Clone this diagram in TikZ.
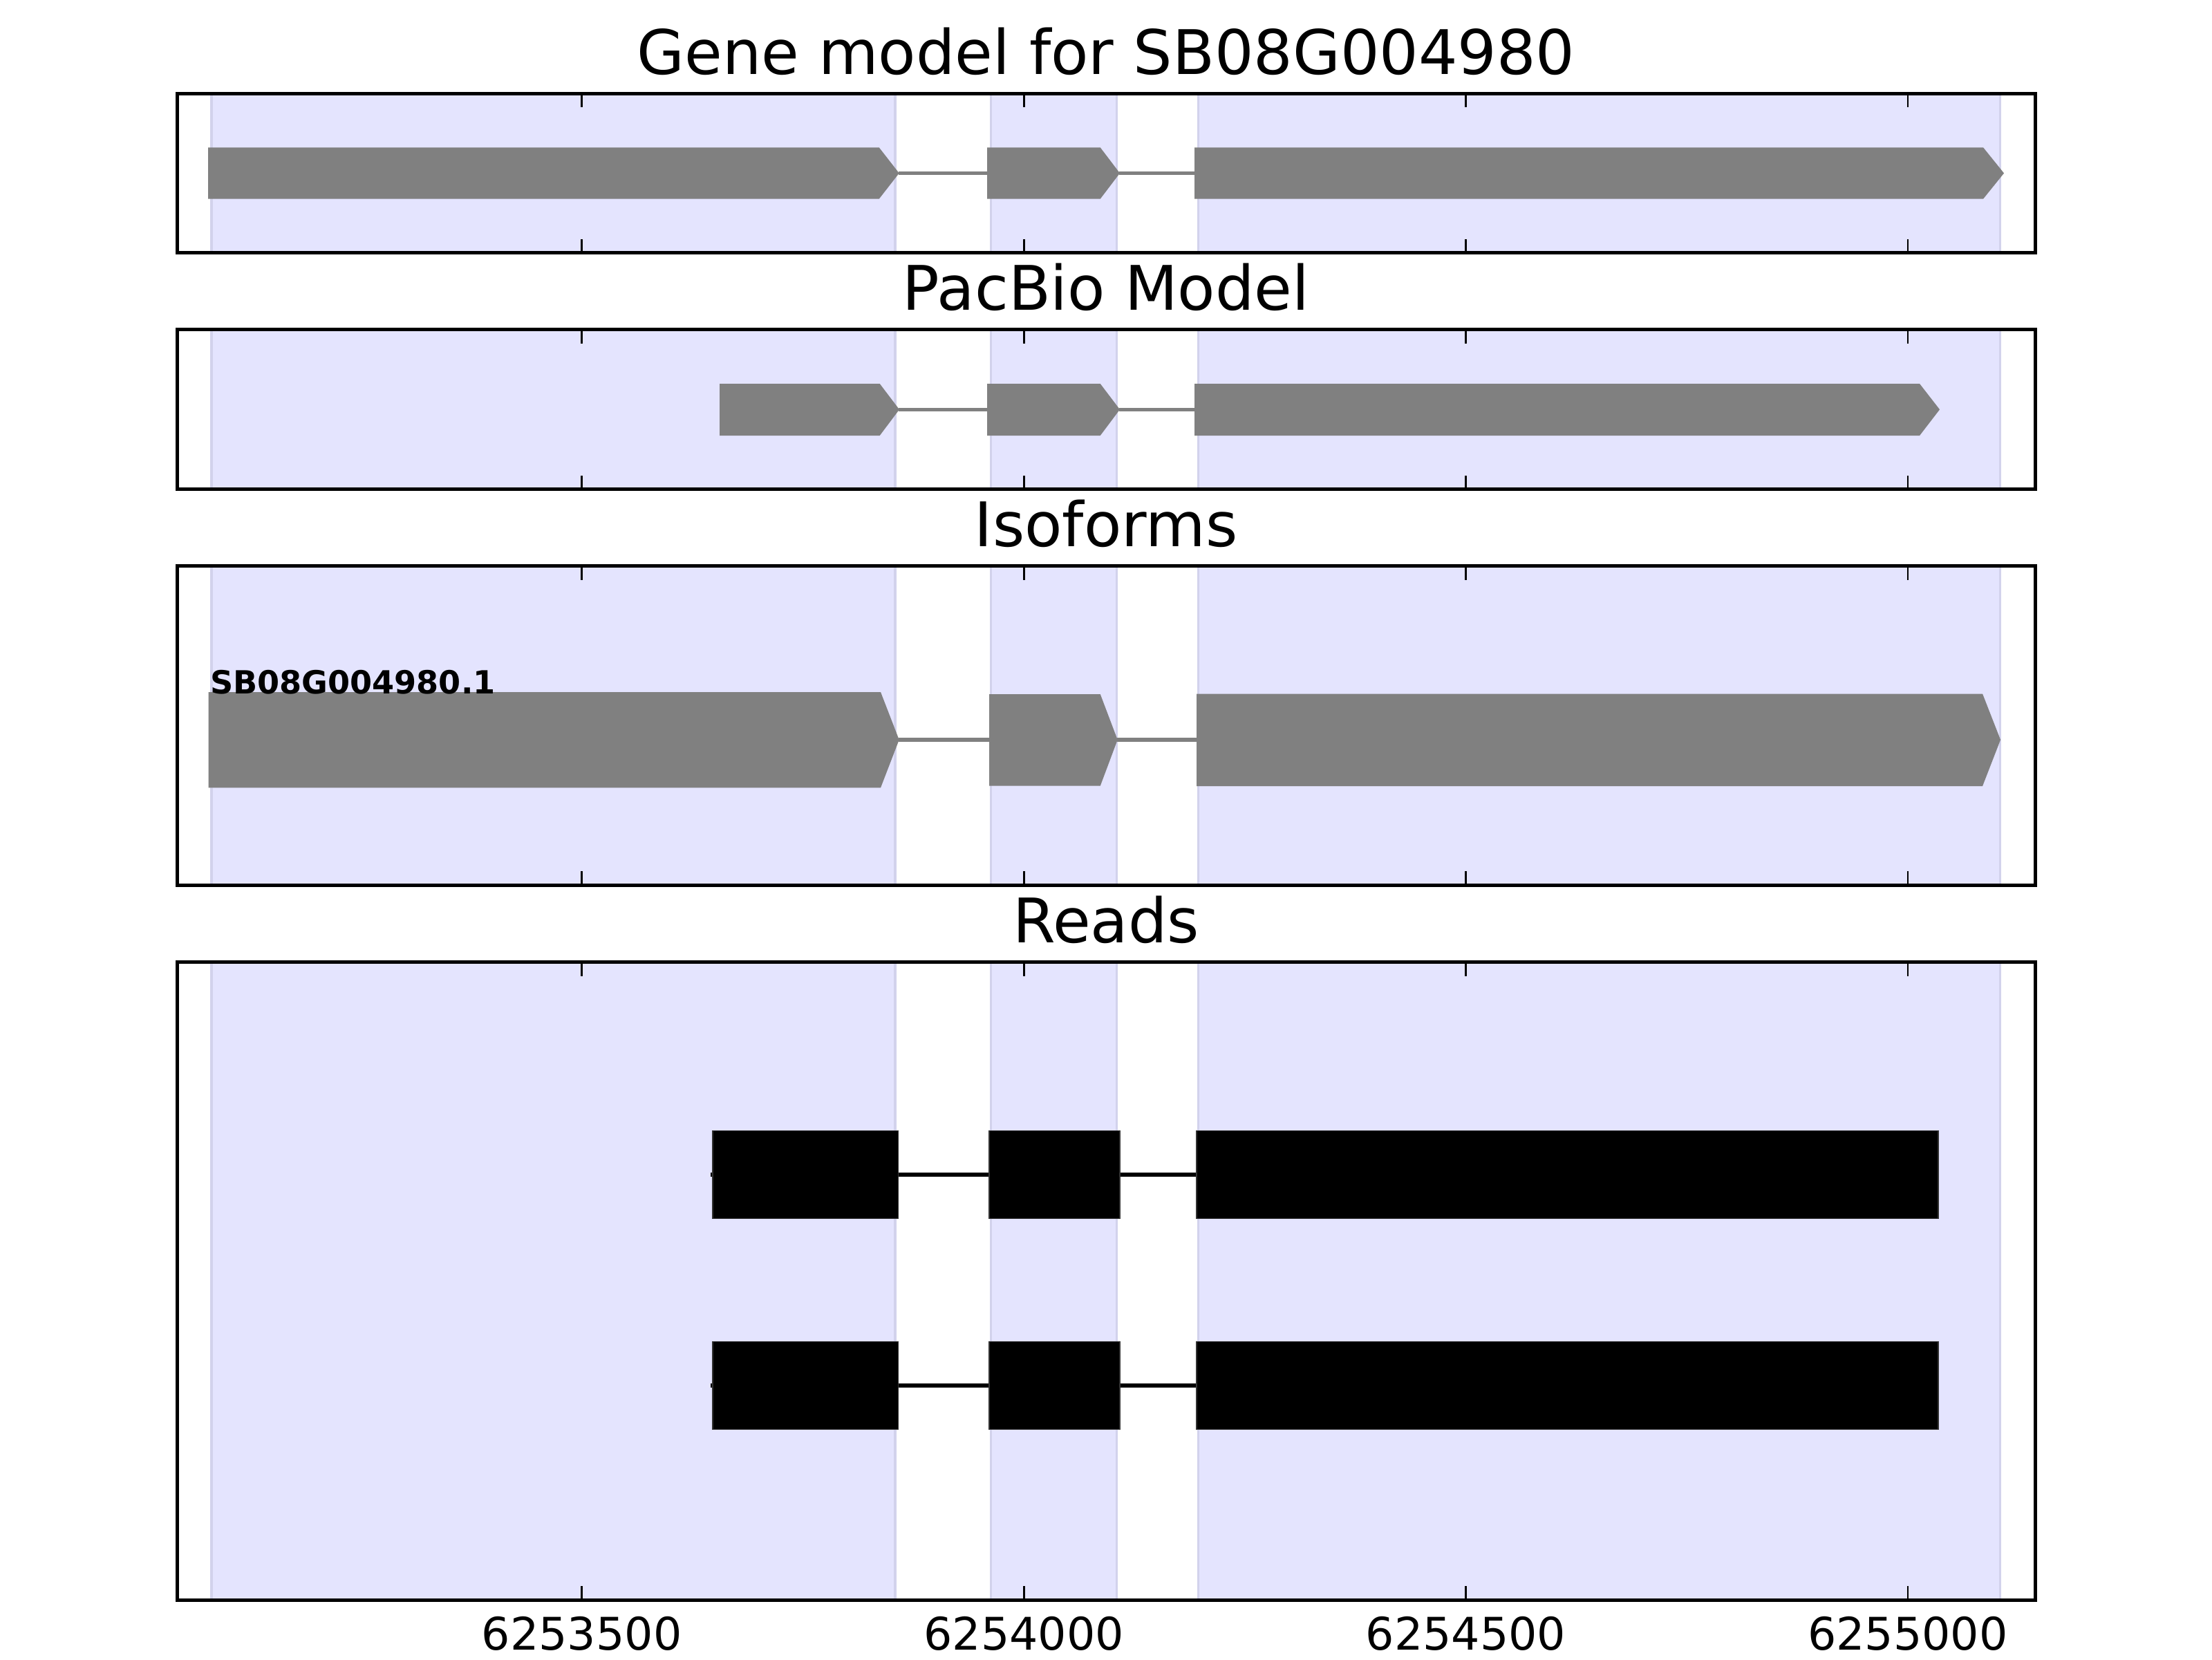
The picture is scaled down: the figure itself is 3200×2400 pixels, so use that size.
\documentclass[tikz,border=0pt]{standalone}
\usepackage{fontspec}
\setmainfont{DejaVu Sans}
\definecolor{shadecol}{RGB}{228,228,254}
\definecolor{shadeedge}{RGB}{210,210,236}
\definecolor{exongray}{RGB}{128,128,128}
\newcommand{\exonarrow}[6]{\fill[exongray] (#1,#4) -- (#2,#4) -- (#3,#5) -- (#2,#6) -- (#1,#6) -- cycle;}
\tikzset{
  frame/.style={draw=black, line width=0.9pt},
  shadeline/.style={draw=shadeedge, line width=0.55pt},
  intronline/.style={draw=exongray, line width=1pt},
  readexon/.style={fill=black, draw=black!80, line width=0.25pt},
  readintron/.style={draw=black, line width=1pt},
  tickmark/.style={draw=black, line width=0.5pt},
  ttl/.style={font=\fontsize{16}{19}\selectfont, anchor=base, inner sep=0pt},
  ticklab/.style={font=\fontsize{11.7}{14}\selectfont, anchor=base, inner sep=0pt},
  isolab/.style={font=\fontsize{8.3}{10}\selectfont\bfseries, anchor=base west, inner sep=0pt},
}
\begin{document}
\begin{tikzpicture}[x=0.18pt,y=-0.18pt]
\useasboundingbox (0,0) rectangle (3200,2400);
\fill[white] (0,0) rectangle (3200,2400);
% shaded exon spans
\foreach \t/\b in {135/365.5,476.5/707.5,818.5/1280,1391.5/2314}{
  \foreach \l/\r in {306/1295,1433/1615,1733/2893}{
    \fill[shadecol] (\l,\t) rectangle (\r,\b);
    \draw[shadeline] (\l,\t) -- (\l,\b) (\r,\t) -- (\r,\b);
  }
}
% Gene model
\draw[intronline] (1300,250.5) -- (1428,250.5);
\draw[intronline] (1619,250.5) -- (1728,250.5);
\exonarrow{301}{1271.7}{1300.7}{213.3}{250.5}{287.7}
\exonarrow{1428}{1591.7}{1620}{213.3}{250.5}{287.7}
\exonarrow{1728}{2869}{2899}{213.3}{250.5}{287.7}
% PacBio model
\draw[intronline] (1300,592.3) -- (1428,592.3);
\draw[intronline] (1619,592.3) -- (1728,592.3);
\exonarrow{1041}{1272.7}{1301}{555}{592.3}{630}
\exonarrow{1428}{1591.7}{1620}{555}{592.3}{630}
\exonarrow{1728}{2777}{2806}{555}{592.3}{630}
% Isoforms
\draw[intronline] (1300,1069.7) -- (1431,1069.7);
\draw[intronline] (1616,1069.7) -- (1731,1069.7);
\exonarrow{301.7}{1274}{1300.7}{1001}{1070}{1139.3}
\exonarrow{1431}{1591.7}{1616.7}{1004}{1070}{1136.7}
\exonarrow{1731}{2868}{2894}{1003.5}{1070}{1137}
\node[isolab] (iso1) at (303,1003) {SB08G004980.1};
% Reads
\foreach \c in {1699,2004}{
  \draw[readintron] (1028,\c) -- (2804,\c);
  \foreach \l/\r in {1031/1299.5,1431/1620,1731/2804}{
    \filldraw[readexon] (\l,\c-63.5) rectangle (\r,\c+63.5);
  }
}
% frames and ticks
\foreach \t/\b in {135/365.5,476.5/707.5,818.5/1280,1391.5/2314}{
  \foreach \x in {841.7,1481.1,2120.5,2759.9}{
    \draw[tickmark] (\x,\t) -- ++(0,20);
    \draw[tickmark] (\x,\b) -- ++(0,-20);
  }
  \draw[frame] (256,\t) rectangle (2944,\b);
}
% titles
\node[ttl] (t1) at (1600,107) {Gene model for SB08G004980};
\node[ttl] (t2) at (1600,448.5) {PacBio Model};
\node[ttl] (t3) at (1600,790.5) {Isoforms};
\node[ttl] (t4) at (1600,1363.5) {Reads};
% tick labels
\node[ticklab] (x1) at (841.7,2386) {6253500};
\node[ticklab] (x2) at (1481.1,2386) {6254000};
\node[ticklab] (x3) at (2120.5,2386) {6254500};
\node[ticklab] (x4) at (2759.9,2386) {6255000};
\end{tikzpicture}
\end{document}
